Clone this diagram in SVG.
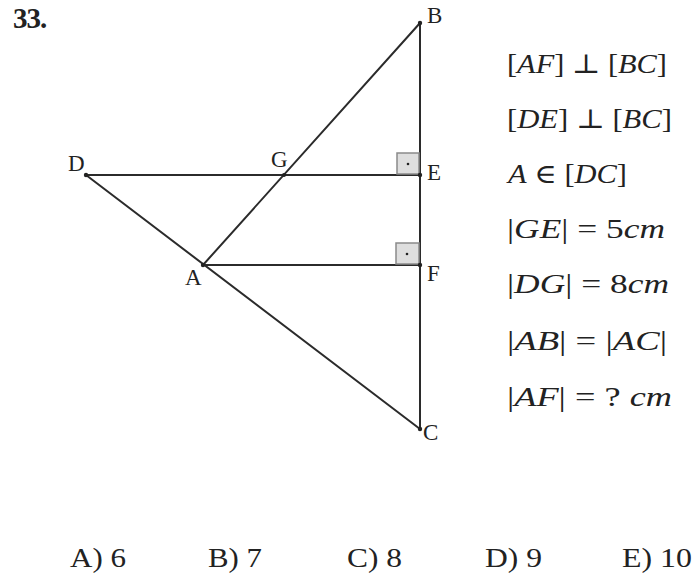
<svg xmlns="http://www.w3.org/2000/svg" width="697" height="579" viewBox="0 0 697 579">
<style>
.ln{stroke:#2b2b2b;stroke-width:2;fill:none;stroke-linecap:round}
.ra{fill:#dedede;stroke:#8a8a8a;stroke-width:1.5}
.dot{fill:#222}
.lbl{font-family:"Liberation Serif","DejaVu Serif",serif;font-size:23px;fill:#222}
.m{font-family:"Liberation Serif","DejaVu Serif",serif;font-size:27px;fill:#222}
.i{font-style:italic}
.ans{font-family:"Liberation Serif","DejaVu Serif",serif;font-size:28px;fill:#222}
.num{font-family:"Liberation Serif",serif;font-size:29px;font-weight:bold;fill:#222;letter-spacing:-1px}
</style>
<rect width="697" height="579" fill="#fff"/>
<text class="num" x="13" y="28">33.</text>
<g id="connectors">
<line class="ln" x1="420" y1="23" x2="420" y2="429"/>
<line class="ln" x1="86" y1="175" x2="420" y2="175"/>
<line class="ln" x1="203" y1="265" x2="420" y2="265"/>
<line class="ln" x1="86" y1="175" x2="420" y2="429"/>
<line class="ln" x1="203" y1="265" x2="420" y2="23"/>
</g>
<g id="rightangle-E"><rect class="ra" x="397" y="153" width="22" height="21"/><circle class="dot" cx="408" cy="164" r="1.3"/></g>
<g id="rightangle-F"><rect class="ra" x="396" y="243" width="23" height="21"/><circle class="dot" cx="407" cy="254" r="1.3"/></g>
<g id="node-B"><circle class="dot" cx="420" cy="23" r="2.2"/><text class="lbl" x="427" y="23">B</text></g>
<g id="node-D"><circle class="dot" cx="86" cy="175" r="2.2"/><text class="lbl" x="68" y="171">D</text></g>
<g id="node-G"><circle class="dot" cx="284" cy="175" r="2"/><text class="lbl" x="271" y="167">G</text></g>
<g id="node-E"><circle class="dot" cx="420" cy="175" r="2.2"/><text class="lbl" x="427" y="180">E</text></g>
<g id="node-A"><circle class="dot" cx="203" cy="265" r="2.2"/><text class="lbl" x="185" y="285">A</text></g>
<g id="node-F"><circle class="dot" cx="420" cy="265" r="2.2"/><text class="lbl" x="427" y="281">F</text></g>
<g id="node-C"><circle class="dot" cx="420" cy="429" r="2.2"/><text class="lbl" x="423" y="440">C</text></g>
<g id="givens">
<text class="m" x="507" y="73" textLength="160" lengthAdjust="spacingAndGlyphs">[<tspan class="i">AF</tspan>] ⊥ [<tspan class="i">BC</tspan>]</text>
<text class="m" x="507" y="128" textLength="165" lengthAdjust="spacingAndGlyphs">[<tspan class="i">DE</tspan>] ⊥ [<tspan class="i">BC</tspan>]</text>
<text class="m" x="508" y="183" textLength="119" lengthAdjust="spacingAndGlyphs"><tspan class="i">A</tspan> ∈ [<tspan class="i">DC</tspan>]</text>
<text class="m" x="507" y="238" textLength="158" lengthAdjust="spacingAndGlyphs">|<tspan class="i">GE</tspan>| = 5<tspan class="i">cm</tspan></text>
<text class="m" x="507" y="293" textLength="162" lengthAdjust="spacingAndGlyphs">|<tspan class="i">DG</tspan>| = 8<tspan class="i">cm</tspan></text>
<text class="m" x="507" y="350" textLength="160" lengthAdjust="spacingAndGlyphs">|<tspan class="i">AB</tspan>| = |<tspan class="i">AC</tspan>|</text>
<text class="m" x="507" y="406" textLength="165" lengthAdjust="spacingAndGlyphs">|<tspan class="i">AF</tspan>| = ? <tspan class="i">cm</tspan></text>
</g>
<g id="answers">
<text class="ans" x="70" y="567" textLength="56" lengthAdjust="spacingAndGlyphs">A) 6</text>
<text class="ans" x="208" y="567" textLength="54" lengthAdjust="spacingAndGlyphs">B) 7</text>
<text class="ans" x="347" y="567" textLength="55" lengthAdjust="spacingAndGlyphs">C) 8</text>
<text class="ans" x="485" y="567" textLength="57" lengthAdjust="spacingAndGlyphs">D) 9</text>
<text class="ans" x="622" y="567" textLength="70" lengthAdjust="spacingAndGlyphs">E) 10</text>
</g>
</svg>
